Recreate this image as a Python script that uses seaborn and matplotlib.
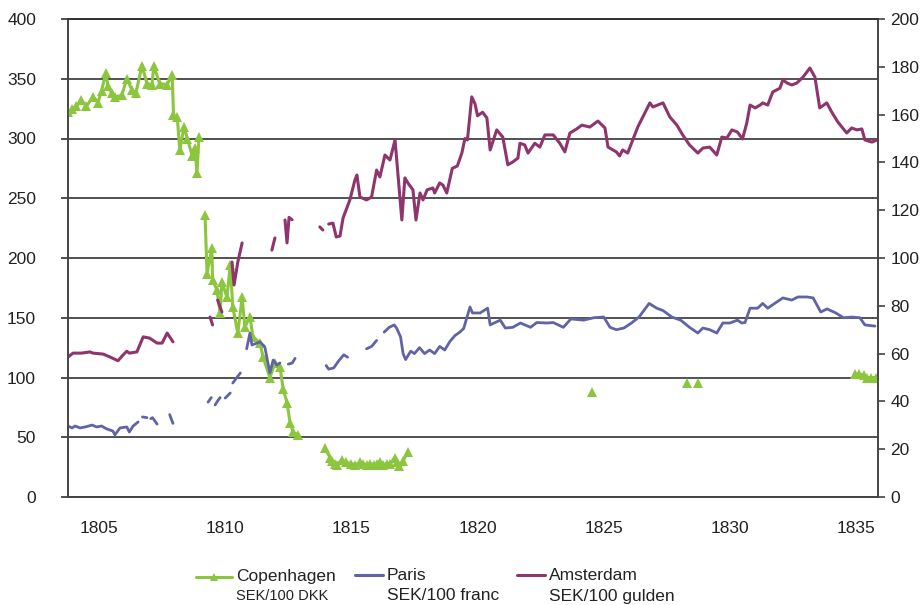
import numpy as np
import pandas as pd
import matplotlib.pyplot as plt
import seaborn as sns
from matplotlib.lines import Line2D

nan = np.nan

# --- data (nan = gap in the series) ---
# Copenhagen, SEK/100 DKK, left axis
cph_year = [1803.77, 1803.93, 1804.1, 1804.3, 1804.5, 1804.77, 1804.96, 1805.1, 1805.27, 1805.35,
            1805.5, 1805.63, 1805.9, 1806.1, 1806.3, 1806.46, 1806.7, 1806.9, 1807.1, 1807.17,
            1807.4, 1807.7, 1807.9, 1807.95, 1808.1, 1808.2, 1808.37, 1808.5, 1808.7, 1808.8,
            1808.88, 1808.96, 1809.0,
            1809.2, 1809.28, 1809.47, 1809.5, 1809.67, 1809.8, 1809.87, 1810.07, 1810.2, 1810.3,
            1810.5, 1810.67, 1810.78, 1810.98, 1811.1, 1811.38, 1811.5, 1811.77, 1811.97, 1812.17,
            1812.3, 1812.45, 1812.57, 1812.7, 1812.9, 1813.0,
            1813.95, 1814.15, 1814.25, 1814.35, 1814.43, 1814.63, 1814.8, 1815.0, 1815.15, 1815.34,
            1815.45, 1815.6, 1815.75, 1815.9, 1816.0, 1816.15, 1816.25, 1816.4, 1816.55, 1816.72,
            1816.8, 1816.9, 1817.05, 1817.24, 1817.3,
            1824.53, 1824.6, 1828.3, 1828.4, 1828.73, 1828.8,
            1834.95, 1835.1, 1835.3, 1835.45, 1835.6, 1835.8]
cph_val = [322, 325, 327, 332, 327, 335, 330, 340, 355, 344,
           338, 335, 336, 350, 341, 338, 361, 346, 345, 361,
           346, 345, 353, 320, 318, 290, 310, 300, 285, 292,
           271, 301, nan,
           236, 187, 208, 182, 173, 154, 180, 167, 194, 159,
           137, 167, 142, 151, 134, 129, 117, 100, 112, 109,
           90, 79, 62, 54, 52, nan,
           41, 33, 30, 28, 27, 31, 29, 28, 27, 29,
           28, 27, 28, 27, 28, 29, 27, 28, 28, 33,
           29, 26, 30, 38, nan,
           88, nan, 95, nan, 95, nan,
           103, 103, 102, 100, 100, 100]

# Paris, SEK/100 franc, right axis
par_year = [1803.77, 1803.93, 1804.05, 1804.25, 1804.45, 1804.73, 1804.9, 1805.1, 1805.3, 1805.55,
            1805.63, 1805.83, 1806.1, 1806.2, 1806.35, 1806.55, 1806.6,
            1806.72, 1806.9, 1806.95, 1807.05, 1807.12, 1807.3, 1807.4, 1807.8, 1807.85, 1807.93, 1808.0,
            1809.32, 1809.45, 1809.5, 1809.6, 1809.7, 1809.8, 1809.9, 1810.0, 1810.2, 1810.25,
            1810.3, 1810.6, 1810.7,
            1810.85, 1810.98, 1811.06, 1811.26, 1811.38, 1811.57, 1811.77, 1811.9, 1812.05, 1812.17, 1812.3,
            1812.5, 1812.65, 1812.77, 1812.9,
            1814.0, 1814.1, 1814.3, 1814.5, 1814.7, 1814.85, 1815.0,
            1815.6, 1815.8, 1816.0, 1816.1,
            1816.3, 1816.5, 1816.7, 1816.8, 1816.95, 1817.05, 1817.15, 1817.35, 1817.5, 1817.7,
            1817.9, 1818.1, 1818.3, 1818.5, 1818.7, 1818.9, 1819.1, 1819.3, 1819.45, 1819.7,
            1819.8, 1820.1, 1820.4, 1820.5, 1820.9, 1821.1, 1821.4, 1821.7, 1822.1, 1822.35,
            1822.75, 1823.0, 1823.4, 1823.7, 1824.2, 1824.6, 1825.0, 1825.25, 1825.5, 1825.8,
            1826.1, 1826.4, 1826.8, 1827.1, 1827.35, 1827.7, 1828.05, 1828.4, 1828.73, 1828.93,
            1829.2, 1829.48, 1829.72, 1830.0, 1830.3, 1830.47, 1830.6, 1830.8, 1831.1, 1831.3,
            1831.5, 1831.86, 1832.1, 1832.45, 1832.7, 1833.05, 1833.3, 1833.6, 1833.85, 1834.2,
            1834.5, 1834.83, 1835.15, 1835.35, 1835.75]
par_val = [29.7, 28.9, 29.7, 28.9, 29.3, 30.1, 29.3, 29.7, 28.5, 27.6,
           26.0, 28.9, 29.3, 27.2, 29.7, 31.4, nan,
           33.5, 33.2, nan, 32.8, 33.2, 30.5, nan, 34.5, 33.0, 30.8, nan,
           39.7, 41.6, nan, 38.5, 40.2, 41.6, nan, 41.4, 43.5, nan,
           47.7, 51.9, nan,
           62.0, 68.6, 63.6, 64.4, 64.9, 62.8, 51.9, 57.3, 55.2, 56.1, nan,
           55.6, 56.0, 58.0, nan,
           55.0, 53.5, 54.0, 57.0, 59.5, 58.5, nan,
           62.0, 63.0, 65.5, nan,
           69.0, 71.0, 72.0, 70.5, 67.0, 60.0, 57.5, 61.0, 60.0, 62.5,
           60.0, 61.5, 60.0, 63.0, 61.5, 65.0, 67.5, 69.0, 70.5, 79.5,
           77.0, 77.0, 79.0, 72.0, 74.0, 70.7, 71.0, 72.8, 71.0, 73.0,
           72.8, 73.0, 71.0, 74.5, 74.0, 75.0, 75.3, 71.0, 70.0, 70.7,
           72.8, 75.3, 81.0, 79.0, 78.0, 75.3, 74.0, 71.0, 68.6, 70.7,
           70.0, 68.6, 72.8, 72.8, 74.0, 72.8, 73.0, 79.0, 79.0, 81.0,
           79.0, 81.6, 83.3, 82.4, 83.7, 83.7, 83.3, 77.4, 78.7, 77.0,
           75.0, 75.3, 75.0, 72.0, 71.5]

# Amsterdam, SEK/100 gulden, right axis
ams_year = [1803.77, 1803.97, 1804.3, 1804.64, 1804.76, 1805.16, 1805.43, 1805.75, 1805.95, 1806.1,
            1806.2, 1806.5, 1806.75, 1807.0, 1807.3, 1807.5, 1807.7, 1807.8, 1807.93, 1808.0,
            1809.4, 1809.5, 1809.55,
            1809.7, 1809.87, 1809.9,
            1810.27, 1810.35, 1810.5, 1810.67, 1810.7,
            1811.85, 1811.97, 1812.0,
            1812.37, 1812.45, 1812.53, 1812.65, 1812.7,
            1813.75, 1813.87, 1813.95,
            1814.1, 1814.27, 1814.4, 1814.55, 1814.67, 1814.94, 1815.14, 1815.22, 1815.34, 1815.6,
            1815.8, 1816.0, 1816.13, 1816.33, 1816.53, 1816.73, 1817.0, 1817.12, 1817.24, 1817.44,
            1817.56, 1817.72, 1817.84, 1818.0, 1818.23, 1818.3, 1818.5, 1818.63, 1818.78, 1819.0,
            1819.2, 1819.38, 1819.5, 1819.6, 1819.77, 1819.9, 1820.0, 1820.2, 1820.37, 1820.5,
            1820.76, 1821.0, 1821.2, 1821.4, 1821.6, 1821.68, 1821.87, 1822.0, 1822.27, 1822.47,
            1822.67, 1823.0, 1823.26, 1823.46, 1823.66, 1823.93, 1824.13, 1824.45, 1824.77, 1825.05,
            1825.17, 1825.5, 1825.63, 1825.75, 1825.95, 1826.1, 1826.35, 1826.55, 1826.83, 1826.95,
            1827.35, 1827.62, 1827.9, 1828.13, 1828.4, 1828.73, 1828.93, 1829.2, 1829.48, 1829.68,
            1829.88, 1830.08, 1830.3, 1830.5, 1830.67, 1830.8, 1831.0, 1831.2, 1831.3, 1831.5,
            1831.7, 1831.98, 1832.1, 1832.27, 1832.45, 1832.65, 1832.9, 1833.17, 1833.37, 1833.56,
            1833.84, 1834.04, 1834.28, 1834.63, 1834.83, 1835.03, 1835.23, 1835.35, 1835.63, 1835.83]
ams_val = [58.6, 60.2, 60.2, 60.7, 60.2, 59.8, 58.6, 57.0, 59.4, 61.0,
           60.2, 60.7, 67.0, 66.5, 64.4, 64.4, 68.6, 67.0, 64.9, nan,
           75.3, 72.0, nan,
           82.4, 77.4, nan,
           98.3, 88.7, 98.3, 106.3, nan,
           103.3, 108.4, nan,
           115.9, 106.3, 117.0, 116.0, nan,
           113.0, 111.7, nan,
           114.2, 114.6, 108.8, 109.2, 116.7, 124.3, 132.6, 134.7, 125.5, 124.3,
           125.5, 136.8, 133.9, 143.1, 141.0, 149.4, 115.9, 133.5, 131.4, 128.5,
           115.9, 127.2, 124.3, 128.5, 129.3, 127.2, 131.4, 130.5, 127.2, 137.5,
           138.5, 144.0, 150.0, 149.4, 167.4, 164.5, 159.5, 161.0, 158.6, 145.2,
           153.6, 150.6, 139.0, 140.2, 141.8, 148.0, 147.3, 143.9, 148.0, 146.4,
           151.5, 151.5, 148.0, 144.4, 152.3, 154.0, 155.6, 154.8, 157.3, 154.4,
           146.4, 144.4, 142.7, 145.2, 143.9, 148.0, 154.8, 159.0, 164.9, 163.2,
           164.9, 159.0, 155.6, 151.5, 147.3, 143.9, 146.0, 146.4, 143.1, 150.6,
           150.2, 153.6, 152.7, 149.8, 156.5, 164.0, 162.8, 164.0, 164.9, 164.0,
           169.5, 171.0, 174.5, 173.2, 172.4, 173.2, 175.7, 179.5, 175.7, 162.8,
           164.9, 161.0, 156.9, 152.3, 154.4, 153.6, 154.0, 149.4, 148.5, 149.4]

green = "#8cc63f"
blue = "#6064a6"
plum = "#8e356e"
grid_c = "#333333"


def segments(years, vals):
    df = pd.DataFrame({"year": years, "value": vals})
    df["seg"] = df["value"].isna().cumsum()
    return df.dropna()


cph = segments(cph_year, cph_val)
par = segments(par_year, par_val)
ams = segments(ams_year, ams_val)

sns.set_style("white")
plt.rcParams["font.family"] = ["Liberation Sans", "DejaVu Sans"]

fig = plt.figure(figsize=(9.22, 6.05), dpi=100)
ax = fig.add_axes([68 / 922, 1 - 497 / 605, 810 / 922, 478 / 605])
ax2 = ax.twinx()

sns.lineplot(data=cph, x="year", y="value", units="seg", estimator=None, sort=False,
             color=green, lw=2.2, marker="^", markersize=7, markeredgewidth=0,
             ax=ax, legend=False, zorder=3)
sns.lineplot(data=par, x="year", y="value", units="seg", estimator=None, sort=False,
             color=blue, lw=2.0, ax=ax2, legend=False)
sns.lineplot(data=ams, x="year", y="value", units="seg", estimator=None, sort=False,
             color=plum, lw=2.2, ax=ax2, legend=False)

ax.set_xlim(1803.77, 1835.87)
ax.set_ylim(0, 400)
ax2.set_ylim(0, 200)
ax.set_yticks(range(0, 401, 50))
ax2.set_yticks(range(0, 201, 20))
ax.set_xticks(range(1805, 1836, 5))
ax.set_xlabel("")
ax.set_ylabel("")
ax2.set_ylabel("")
ax.yaxis.grid(True, color=grid_c, lw=1.2)
ax.set_axisbelow(True)

for a in (ax, ax2):
    for s in a.spines.values():
        s.set_color("#444444")
        s.set_linewidth(1.2)
    a.spines["top"].set_color(grid_c)

ax.tick_params(axis="y", direction="out", length=5, width=1.2, color=grid_c,
               pad=18, labelsize=12.5, labelcolor="#222222")
ax.tick_params(axis="x", direction="out", length=5, width=1.2, color="#444444",
               pad=12, labelsize=12.5, labelcolor="#222222")
ax2.tick_params(axis="y", direction="out", length=5, width=1.2, color="#444444",
                pad=4, labelsize=12.5, labelcolor="#222222")

# legend below the plot, drawn by hand
def px(x, y):
    return x / 922, 1 - y / 605

entries = [
    (196, 232, 577, green, "^", "Copenhagen", "SEK/100 DKK", 10.5),
    (355, 383, 575, blue, None, "Paris", "SEK/100 franc", 12.5),
    (517, 545, 575, plum, None, "Amsterdam", "SEK/100 gulden", 12.5),
]
for x0, x1, y, c, m, t1, t2, fs2 in entries:
    (a0, b0), (a1, _) = px(x0, y), px(x1, y)
    fig.add_artist(Line2D([a0, a1], [b0, b0], color=c, lw=2.2, transform=fig.transFigure))
    if m:
        fig.add_artist(Line2D([(a0 + a1) / 2], [b0], color=c, marker=m, markersize=6,
                              markeredgewidth=0, transform=fig.transFigure))
    tx, ty = px(x1 + 4, 576)
    fig.text(tx, ty, t1, fontsize=12.5, color="#222222", va="center", ha="left")
    tx, ty = px(x1 + 4, 596)
    fig.text(tx, ty, t2, fontsize=fs2, color="#222222", va="center", ha="left")

fig.savefig("out.png", dpi=100)
